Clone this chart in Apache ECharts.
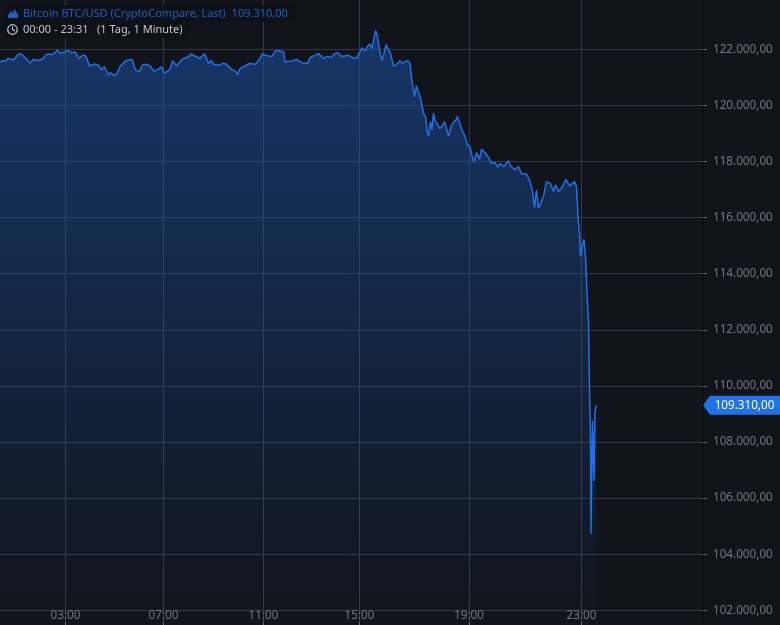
<!DOCTYPE html>
<html>
<head>
<meta charset="utf-8">
<style>
  html,body{margin:0;padding:0;background:#11141b;}
  #chart{width:780px;height:625px;}
</style>
<script src="https://cdn.jsdelivr.net/npm/echarts@6/dist/echarts.min.js"></script>
</head>
<body>
<div id="chart"></div>
<script>
// bar numbers on the x axis and last price at that bar
const bars = [0,7,12,15,21,28,33,39,45,52,60,67,73,80,87,92,97,103,110,115,121,128,136,143,151,157,167,172,179,184,189,197,203,209,213,217,221,227,233,241,251,264,271,279,285,293,300,308,316,323,329,340,345,353,365,375,383,389,400,409,413,417,423,428,437,445,452,463,472,475,480,490,499,510,517,525,533,544,550,559,567,570,577,587,592,600,607,615,621,630,637,647,653,663,669,676,683,697,707,713,719,724,729,739,744,751,754,757,761,764,768,772,776,781,787,793,800,804,811,816,820,824,829,833,837,841,847,851,855,857,861,864,867,870,873,879,884,889,897,904,911,915,919,925,929,935,940,945,948,953,959,963,970,977,983,990,996,1000,1008,1017,1021,1030,1037,1043,1053,1060,1065,1069,1073,1077,1081,1087,1093,1101,1107,1111,1117,1123,1132,1139,1143,1149,1153,1156,1159,1161,1165,1168,1171,1175,1177,1178,1179,1180,1181,1182,1185,1188,1190,1191,1193];
const prices = [121550,121600,121570,121670,121655,121620,121760,121845,121800,121680,121500,121645,121600,121620,121680,121800,121835,121810,121880,121965,121845,121905,121950,121880,121905,121680,121800,121740,121405,121440,121475,121430,121265,121380,121335,121075,121170,121075,121110,121405,121595,121645,121265,121205,121440,121465,121405,121215,121285,121370,121145,121285,121595,121405,121655,121715,121835,121760,121680,121845,121855,121500,121595,121455,121430,121500,121475,121285,121205,121085,121310,121405,121500,121455,121595,121835,121775,121740,121940,121950,121905,121550,121570,121595,121645,121560,121500,121500,121715,121785,121845,121670,121740,121715,121835,121880,121740,121785,121690,121680,121880,122050,121950,122190,122035,122665,122545,122215,121800,121595,121855,122165,122145,121855,121405,121455,121595,121500,121570,121595,121500,120850,120315,120695,120705,120255,119720,119600,119005,118910,119420,119125,119720,119480,119540,119185,119245,119420,118910,119340,119460,119600,119540,119065,118945,118590,118530,118115,117995,118315,118080,118435,118315,118150,117935,117960,117795,117935,117820,118030,117840,117700,117820,117555,117555,117285,116930,116355,116985,116335,116335,116750,117285,117200,116930,117165,116930,117045,117365,117130,117130,117285,117105,116035,115440,114610,115025,115230,114610,112950,112355,111050,109860,109090,108075,104720,108760,106610,109100,109100,109310];
const timeTickBars = [131,327,527,719,938,1163];
const timeTickLabels = ['03:00','07:00','11:00','15:00','19:00','23:00'];
const priceTicks = [102000,104000,106000,108000,110000,112000,114000,116000,118000,120000,122000];
const lastPrice = 109310;

const fontName = '"Noto Sans"';
function fmt(v){
  return v.toLocaleString('de-DE',{minimumFractionDigits:2,maximumFractionDigits:2});
}

let myChart = echarts.init(document.getElementById('chart'),null,{renderer:'canvas'});
myChart.setOption({
  animation:false,
  backgroundColor:'#11141b',
  grid:{left:0,right:77,top:0,bottom:3},
  title:[{
    text:'Bitcoin BTC/USD (CryptoCompare, Last)  ' + fmt(lastPrice),
    left:5,top:5,
    padding:[1,7,1,18],
    backgroundColor:'#0e1117',
    textStyle:{color:'#1f5fc4',fontSize:11,fontWeight:'normal',fontFamily:fontName,lineHeight:15}
  },{
    text:'00:00 - 23:31   (1 Tag, 1 Minute)',
    left:5,top:22,
    padding:[0,6,1,18],
    backgroundColor:'#0e1117',
    textStyle:{color:'#c4c6cb',fontSize:11,fontWeight:'normal',fontFamily:fontName,lineHeight:15}
  }],
  graphic:[
    {type:'polygon',z:100,shape:{points:[[8,18],[8,15],[11,11],[13,13],[14.5,8.5],[16,12],[18,14],[18,18]]},style:{fill:'#1f5fc4'}},
    {type:'circle',z:100,shape:{cx:12.5,cy:29.5,r:4.8},style:{fill:'none',stroke:'#c4c6cb',lineWidth:1.2}},
    {type:'polyline',z:100,shape:{points:[[12.5,26.5],[12.5,29.5],[15,31]]},style:{fill:'none',stroke:'#c4c6cb',lineWidth:1.1}}
  ],
  xAxis:{
    type:'value',
    min:0,max:1406,
    axisLine:{show:false},
    axisTick:{show:true,length:3,customValues:timeTickBars,lineStyle:{color:'#6b6e76'}},
    axisLabel:{
      customValues:timeTickBars,
      inside:true,margin:0,
      color:'#74777f',fontSize:11.7,fontFamily:fontName,
      formatter:function(v){return timeTickLabels[timeTickBars.indexOf(v)];}
    },
    splitLine:{show:true,lineStyle:{color:'#363a45',width:1}}
  },
  yAxis:{
    type:'value',
    position:'right',
    min:101583,max:123758,
    axisLine:{show:true,onZero:false,lineStyle:{color:'#050608',width:1}},
    axisTick:{show:true,length:4,customValues:priceTicks,lineStyle:{color:'#6b6e76'}},
    axisLabel:{
      customValues:priceTicks,
      margin:10,
      color:'#74777f',fontSize:11.7,fontFamily:fontName,
      formatter:function(v){return fmt(v);}
    },
    splitLine:{show:true,lineStyle:{color:'#363a45',width:1}}
  },
  series:[{
    type:'line',
    showSymbol:false,
    symbol:'none',
    data:bars.map(function(b,i){return [b,prices[i]];}),
    lineStyle:{color:'#2270e4',width:1.5},
    areaStyle:{
      origin:'start',
      color:new echarts.graphic.LinearGradient(0,0,0,1,[
        {offset:0,color:'rgba(27,82,167,0.78)'},
        {offset:1,color:'rgba(27,82,167,0.01)'}
      ])
    },
    markPoint:{
      silent:true,
      symbol:'path://M0 10 L7 0 L77 0 L77 20 L7 20 Z',
      symbolKeepAspect:false,
      symbolSize:[77,19],
      symbolOffset:[38.5,0],
      itemStyle:{color:'#2272e8'},
      label:{
        show:true,color:'#ffffff',fontSize:11.7,fontFamily:fontName,
        position:'inside',offset:[3,0],
        formatter:function(){return fmt(lastPrice);}
      },
      data:[{coord:[1406,lastPrice]}]
    }
  }]
});
</script>
</body>
</html>
